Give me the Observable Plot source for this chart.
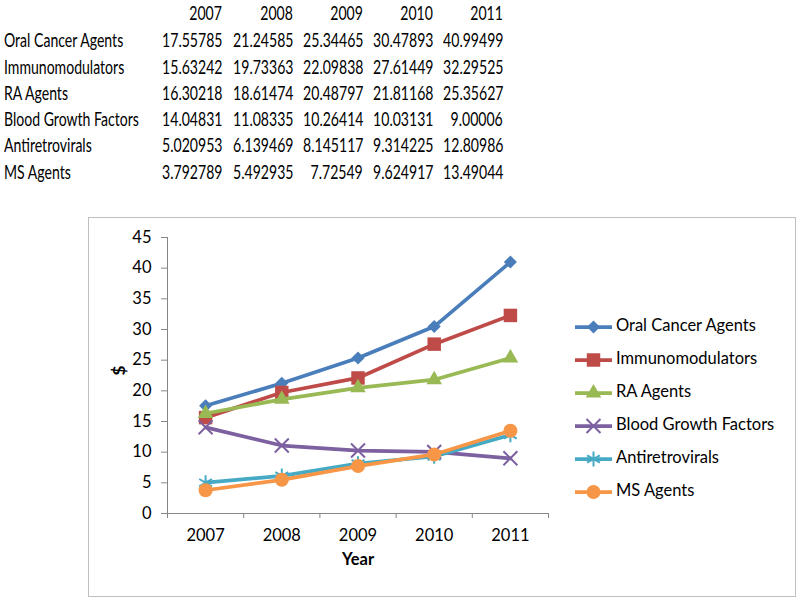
<!DOCTYPE html>
<html>
<head>
<meta charset="utf-8">
<script src="https://cdn.jsdelivr.net/npm/d3@7"></script>
<script src="https://cdn.jsdelivr.net/npm/@observablehq/plot@0.6"></script>
<style>
  html, body { margin: 0; padding: 0; background: #fff; }
  body { width: 800px; height: 604px; position: relative; overflow: hidden; font-family: Lato, "Open Sans", sans-serif; color: #000; }
  .cell { position: absolute; font-size: 18.5px; line-height: 20px; white-space: nowrap; transform: scaleX(0.76); }
  .cell.l { transform-origin: left center; }
  .cell.r { transform-origin: right center; }
  #box { position: absolute; left: 88px; top: 217px; width: 708px; height: 380px; border: 1px solid #BFBFBF; box-sizing: border-box; }
  #chart { position: absolute; left: 0; top: 0; }
  #legend { position: absolute; left: 575px; top: 0; }
  .lg { position: absolute; left: 0; white-space: nowrap; font-size: 16.5px; line-height: 20px; }
  .lg svg { vertical-align: middle; }
</style>
</head>
<body>
<div id="table"></div>
<div id="box"><div id="chart"></div></div>
<div id="legend"></div>
<script>
const years = [2007, 2008, 2009, 2010, 2011];
const seriesNames = ["Oral Cancer Agents", "Immunomodulators", "RA Agents", "Blood Growth Factors", "Antiretrovirals", "MS Agents"];
const oralCancer = [17.55785, 21.24585, 25.34465, 30.47893, 40.99499];
const immuno = [15.63242, 19.73363, 22.09838, 27.61449, 32.29525];
const raAgents = [16.30218, 18.61474, 20.48797, 21.81168, 25.35627];
const bloodGrowth = [14.04831, 11.08335, 10.26414, 10.03131, 9.00006];
const antiretro = [5.020953, 6.139469, 8.145117, 9.314225, 12.80986];
const msAgents = [3.792789, 5.492935, 7.72549, 9.624917, 13.49044];
const tableText = [
  ["17.55785", "21.24585", "25.34465", "30.47893", "40.99499"],
  ["15.63242", "19.73363", "22.09838", "27.61449", "32.29525"],
  ["16.30218", "18.61474", "20.48797", "21.81168", "25.35627"],
  ["14.04831", "11.08335", "10.26414", "10.03131", "9.00006"],
  ["5.020953", "6.139469", "8.145117", "9.314225", "12.80986"],
  ["3.792789", "5.492935", "7.72549", "9.624917", "13.49044"]
];
const yTicks = [0, 5, 10, 15, 20, 25, 30, 35, 40, 45];
const colors = ["#4A7EBB", "#BE4B48", "#98B954", "#7D60A0", "#46AAC5", "#F79646"];
const symbols = ["diamond2", "square", "triangle", "times", "asterisk", "circle"];
const filled = [true, true, true, false, false, true];
const radii = [5.9, 7.6, 5.8, 6.4, 7, 7];
const allValues = [oralCancer, immuno, raAgents, bloodGrowth, antiretro, msAgents];

// ---- data table (text) ----
const table = document.getElementById("table");
const colRight = [222, 293, 363, 433, 503];
const rowY = [13, 40, 67, 93, 119, 145, 172];
function addCell(text, x, y, align) {
  const d = document.createElement("div");
  d.className = "cell " + (align === "right" ? "r" : "l");
  d.textContent = text;
  d.style.top = (y - 10) + "px";
  if (align === "right") { d.style.right = (800 - x) + "px"; }
  else { d.style.left = x + "px"; }
  table.appendChild(d);
}
years.forEach((yr, j) => addCell(String(yr), colRight[j], rowY[0], "right"));
seriesNames.forEach((name, i) => {
  addCell(name, 4, rowY[i + 1], "left");
  tableText[i].forEach((t, j) => addCell(t, colRight[j], rowY[i + 1], "right"));
});

// ---- chart ----
const rows = [];
seriesNames.forEach((name, i) => years.forEach((yr, j) => rows.push({series: name, idx: i, year: yr, value: allValues[i][j]})));
const boundaries = [2006.5, 2007.5, 2008.5, 2009.5, 2010.5, 2011.5];

const marks = [
  Plot.ruleX([2006.5], {stroke: "#868686"}),
  Plot.ruleY([0], {stroke: "#868686"}),
  Plot.axisY({ticks: yTicks, tickSize: 6, tickPadding: 10, stroke: "#868686", fontSize: 16.5, label: null}),
  Plot.axisX({ticks: boundaries, tickSize: 5, tickFormat: () => "", stroke: "#868686", label: null}),
  Plot.axisX({ticks: years, tickSize: 0, tickPadding: 16, tickFormat: d => String(d), fontSize: 16.5, label: null}),
  Plot.text(["Year"], {frameAnchor: "bottom", dy: 51, fontWeight: "bold", fontSize: 16.5}),
  Plot.text(["$"], {frameAnchor: "left", dx: -48, fontWeight: "bold", fontSize: 17, rotate: -90})
];
seriesNames.forEach((name, i) => {
  const d = rows.filter(r => r.idx === i);
  marks.push(Plot.line(d, {x: "year", y: "value", stroke: colors[i], strokeWidth: 3.75}));
  marks.push(Plot.dot(d, {x: "year", y: "value", symbol: () => symbols[i], r: radii[i],
    fill: filled[i] ? colors[i] : "none", stroke: filled[i] ? "none" : colors[i], strokeWidth: 2}));
});

const chart = Plot.plot({
  width: 706, height: 378,
  marginLeft: 78, marginRight: 247, marginTop: 19, marginBottom: 83,
  style: {fontFamily: "Lato, 'Open Sans', sans-serif", color: "#000", background: "transparent", overflow: "visible"},
  x: {domain: [2006.5, 2011.5]},
  y: {domain: [0, 45]},
  symbol: {type: "identity"},
  marks
});
document.getElementById("chart").appendChild(chart);

// ---- legend ----
const legend = document.getElementById("legend");
const symMap = {diamond2: d3.symbolDiamond2, square: d3.symbolSquare, triangle: d3.symbolTriangle, times: d3.symbolTimes, asterisk: d3.symbolAsterisk, circle: d3.symbolCircle};
seriesNames.forEach((name, i) => {
  const row = document.createElement("div");
  row.className = "lg";
  row.style.top = (325 + i * 33 - 10) + "px";
  const svg = d3.create("svg").attr("width", 41).attr("height", 20);
  svg.append("line").attr("x1", 0).attr("x2", 37).attr("y1", 10).attr("y2", 10).attr("stroke", colors[i]).attr("stroke-width", 3.75);
  svg.append("path").attr("transform", "translate(18.5,10)")
    .attr("d", d3.symbol(symMap[symbols[i]], Math.PI * radii[i] * radii[i])())
    .attr("fill", filled[i] ? colors[i] : "none").attr("stroke", filled[i] ? "none" : colors[i]).attr("stroke-width", 2);
  row.appendChild(svg.node());
  const span = document.createElement("span");
  span.textContent = name;
  row.appendChild(span);
  legend.appendChild(row);
});
</script>
</body>
</html>
